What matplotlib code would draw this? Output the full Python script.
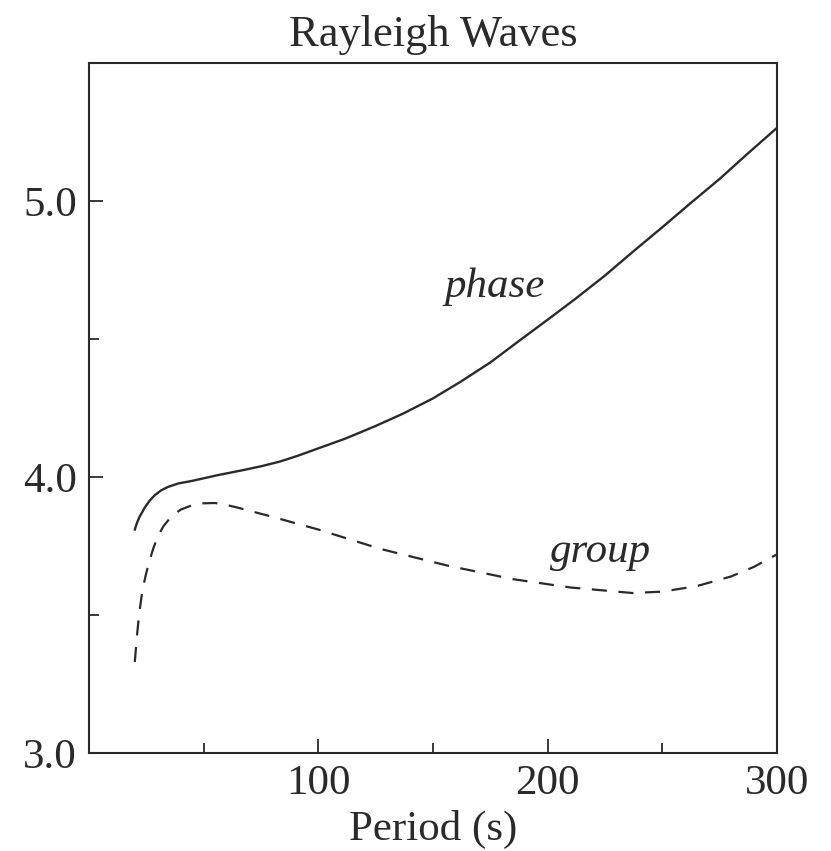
import matplotlib
matplotlib.use('Agg')
import matplotlib.pyplot as plt
from matplotlib.ticker import MultipleLocator

# Rayleigh wave dispersion: phase and group velocity (km/s) vs period (s)
phase_period = [20, 21, 22, 24.4, 26.5, 28.8, 31.5, 34.4, 39, 44.9, 56.2, 67.1, 75, 83.2, 91,
                100, 112, 125, 137, 150, 162, 175, 187, 200, 212, 225, 237, 250, 262, 275, 287, 300]
phase_vel = [3.81, 3.835, 3.855, 3.89, 3.915, 3.935, 3.952, 3.964, 3.977, 3.986, 4.007, 4.025, 4.039,
             4.056, 4.077, 4.104, 4.14, 4.185, 4.23, 4.285, 4.345, 4.415, 4.49, 4.57, 4.645, 4.73,
             4.815, 4.905, 4.99, 5.08, 5.17, 5.265]

group_period = [20, 21, 22, 23, 24.5, 26, 28, 30, 32.5, 36, 40, 45, 50, 55, 60, 65, 80, 100,
                127, 156, 185, 210, 237, 250, 265, 280, 290, 300]
group_vel = [3.33, 3.43, 3.51, 3.57, 3.635, 3.685, 3.74, 3.785, 3.822, 3.858, 3.882, 3.898, 3.905,
             3.906, 3.899, 3.889, 3.856, 3.81, 3.74, 3.68, 3.63, 3.60, 3.58, 3.585, 3.605, 3.64,
             3.675, 3.72]

x_ticks = [100, 200, 300]
y_ticks = [3.0, 4.0, 5.0]

ink = '#2a2a2a'
plt.rcParams['font.family'] = ['Liberation Serif', 'DejaVu Serif']

fig = plt.figure(figsize=(8.31, 8.51), dpi=100)
ax = fig.add_axes([0.107, 0.115, 0.828, 0.811])

ax.plot(phase_period, phase_vel, color=ink, lw=1.7)
ax.plot(group_period, group_vel, color=ink, lw=1.6, dashes=(6.8, 5.2))

ax.text(177, 4.69, 'phase', style='italic', fontsize=31, color=ink, ha='center', va='center')
ax.text(223, 3.73, 'group', style='italic', fontsize=31, color=ink, ha='center', va='center')

ax.set_xlim(0, 300)
ax.set_ylim(3.0, 5.5)
ax.set_xticks(x_ticks)
ax.set_yticks(y_ticks)
ax.set_yticklabels([f'{v:.1f}' for v in y_ticks])
ax.xaxis.set_minor_locator(MultipleLocator(50))
ax.yaxis.set_minor_locator(MultipleLocator(0.5))

ax.tick_params(which='both', direction='in', colors=ink, width=1.3, labelsize=31, labelcolor=ink)
ax.tick_params(which='major', length=10, pad=8)
ax.tick_params(which='minor', length=7)
ax.tick_params(axis='y', pad=8.5)
for s in ax.spines.values():
    s.set_color(ink)
    s.set_linewidth(1.5)

ax.set_xlabel('Period (s)', fontsize=31, color=ink, labelpad=5)
ax.set_title('Rayleigh Waves', fontsize=32, color=ink, pad=12)

fig.savefig('out.png', dpi=100)
